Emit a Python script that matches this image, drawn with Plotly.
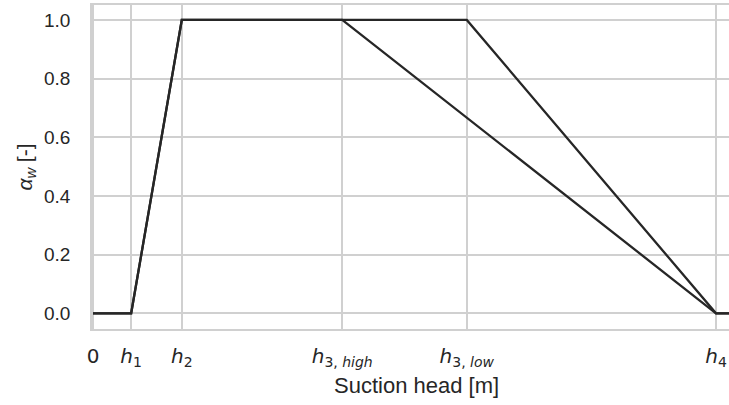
import plotly.graph_objects as go

# Feddes-type water stress reduction function (suction head thresholds in m)
h1 = 0.49
h2 = 1.14
h3_high = 3.2
h3_low = 4.8
h4 = 8.0
h_end = 8.6

x_high = [0, h1, h2, h3_high, h4, h_end]
x_low = [0, h1, h2, h3_low, h4, h_end]
alpha_w = [0.0, 0.0, 1.0, 1.0, 0.0, 0.0]

tick_vals = [0, h1, h2, h3_high, h3_low, h4]
tick_text = [
    "0",
    "<i>h</i><sub>1</sub>",
    "<i>h</i><sub>2</sub>",
    "<i>h</i><sub>3, <i>high</i></sub>",
    "<i>h</i><sub>3, <i>low</i></sub>",
    "<i>h</i><sub>4</sub>",
]
y_ticks = [0.0, 0.2, 0.4, 0.6, 0.8, 1.0]

line_color = "#262626"
grid_color = "#d0d0d0"

fig = go.Figure()
for xs in (x_high, x_low):
    fig.add_trace(go.Scatter(
        x=xs, y=alpha_w, mode="lines",
        line=dict(color=line_color, width=2.3),
        showlegend=False, hoverinfo="skip",
    ))

fig.update_layout(
    width=729, height=405,
    margin=dict(l=92, r=0, t=5, b=76),
    paper_bgcolor="white", plot_bgcolor="white",
    font=dict(family="Liberation Sans, Arial, sans-serif", color="#262626"),
    xaxis=dict(
        range=[-0.013, 8.167],
        tickmode="array", tickvals=tick_vals, ticktext=tick_text,
        tickfont=dict(family="DejaVu Sans", size=20, color="#262626"),
        ticks="", ticklabelstandoff=8,
        showgrid=True, gridcolor=grid_color, gridwidth=1.5,
        showline=True, linecolor=grid_color, linewidth=1.8, mirror=True,
        zeroline=False,
    ),
    yaxis=dict(
        range=[-0.0535, 1.051],
        tickmode="array", tickvals=y_ticks,
        ticktext=[f"{v:.1f}" for v in y_ticks],
        tickfont=dict(size=19, color="#262626"),
        ticks="", ticklabelstandoff=16,
        showgrid=True, gridcolor=grid_color, gridwidth=1.5,
        showline=True, linecolor=grid_color, linewidth=1.8,
        zeroline=False,
        title=dict(text="<i>α</i><sub><i>w</i></sub> [-]",
                   font=dict(size=21, color="#262626"), standoff=6),
    ),
    annotations=[dict(
        text="Suction head [m]", xref="paper", yref="paper",
        x=0.51, y=-0.173, xanchor="center", yanchor="middle",
        showarrow=False, font=dict(size=22, color="#262626"),
    )],
)

fig.write_html("out.html")
